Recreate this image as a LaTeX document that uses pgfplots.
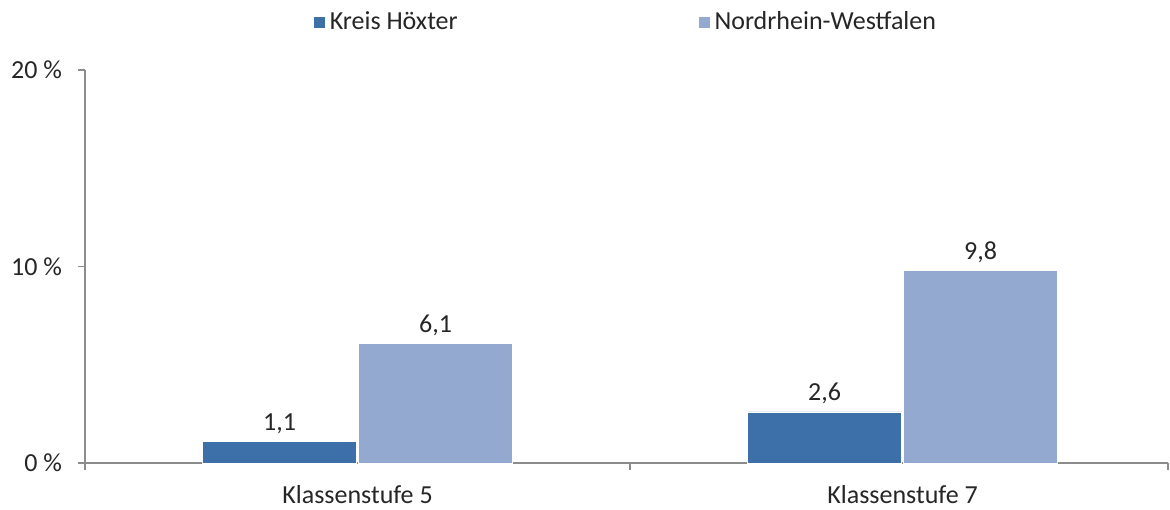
\documentclass[border=0pt]{standalone}
\usepackage{pgfplots}
\pgfplotsset{compat=1.18}
\usepackage{fontspec}
\setmainfont{Carlito}
\definecolor{darkbar}{HTML}{3D70A8}
\definecolor{lightbar}{HTML}{93A9CF}
\definecolor{axgray}{HTML}{8C8C8C}
\definecolor{txt}{HTML}{262626}
\begin{document}
\begin{tikzpicture}[font=\fontsize{13pt}{15pt}\selectfont, text=txt]
\path[use as bounding box] (-42.5pt,-23pt) rectangle (542.5pt,231.5pt);
\begin{axis}[
  at={(0,0)}, anchor=south west,
  scale only axis,
  width=541.5pt, height=196.5pt,
  xmin=-0.5, xmax=1.487,
  ymin=0, ymax=20,
  axis lines=left,
  axis line style={-, axgray, line width=0.9pt},
  ytick={0,10,20},
  yticklabel={\pgfmathprintnumber{\tick}~\%},
  ytick align=outside,
  major y tick style={axgray, line width=0.9pt},
  major tick length=3.5pt,
  yticklabel style={xshift=-4.5pt},
  xtick={0,1},
  xticklabels={Klassenstufe 5, Klassenstufe 7},
  major x tick style={draw=none},
  minor xtick={-0.5,0.5,1.487},
  minor x tick style={axgray, line width=0.9pt},
  minor tick length=3.5pt,
  xtick align=outside,
  xticklabel style={yshift=-4pt},
  /pgf/number format/assume math mode=true,
  ybar=1pt,
  bar width=77pt,
  nodes near coords={\pgfmathprintnumber[use comma,fixed,precision=1,fixed zerofill]{\pgfplotspointmeta}},
  nodes near coords style={anchor=base, yshift=5.5pt, text=txt},
  legend style={at={(0.5,1)}, anchor=south, yshift=14.5pt, draw=none, fill=none,
    legend columns=2, /tikz/every even column/.append style={column sep=118pt},
    font=\fontsize{13pt}{15pt}\selectfont},
  legend image code/.code={\fill[#1] (-2pt,-3pt) rectangle (4pt,3pt);},
  clip=false,
]
\addplot[fill=darkbar, draw=white, line width=0.4pt] coordinates {(0,1.1) (1,2.6)};
\addplot[fill=lightbar, draw=white, line width=0.4pt] coordinates {(0,6.1) (1,9.8)};
\legend{Kreis Höxter, Nordrhein-Westfalen}
\end{axis}
\end{tikzpicture}
\end{document}
